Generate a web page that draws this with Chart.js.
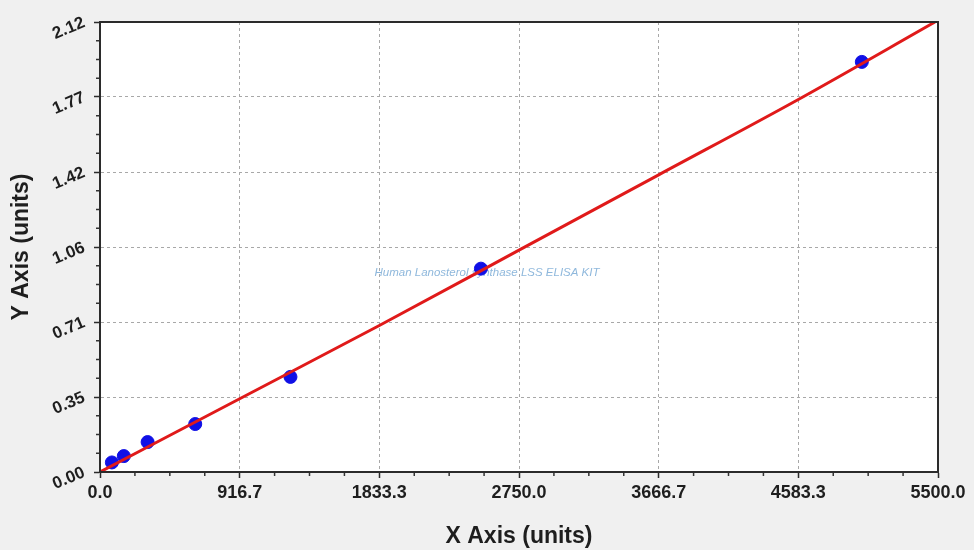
<!DOCTYPE html>
<html>
<head>
<meta charset="utf-8">
<script src="https://cdn.jsdelivr.net/npm/chart.js@4/dist/chart.umd.min.js"></script>
<style>
  html, body { margin: 0; padding: 0; background: #f0f0f0; }
  #wrap { width: 974px; height: 550px; }
</style>
</head>
<body>
<div id="wrap"><canvas id="c" width="974" height="550"></canvas></div>
<script>
// ---- data ----
const stdConc = [78.125, 156.25, 312.5, 625, 1250, 2500, 5000];
const stdOD = [0.045, 0.075, 0.141, 0.226, 0.448, 0.958, 1.932];
const fitConc = [0, 916.7, 1833.3, 2750, 3666.7, 4583.3, 5480];
const fitOD = [0.0, 0.345, 0.69, 1.045, 1.40, 1.755, 2.12];
const xTickLabels = ['0.0', '916.7', '1833.3', '2750.0', '3666.7', '4583.3', '5500.0'];
const yTickLabels = ['0.00', '0.35', '0.71', '1.06', '1.42', '1.77', '2.12'];
const xMax = 5500;
const yMax = 2.12;
const watermark = 'Human Lanosterol synthase LSS ELISA KIT';
const xTitle = 'X Axis (units)';
const yTitle = 'Y Axis (units)';

const toPts = (xs, ys) => xs.map((x, i) => ({ x: x, y: ys[i] }));

function evenTicks(scale, labels, max) {
  const n = labels.length - 1;
  scale.ticks = labels.map((l, i) => ({ value: max * i / n }));
}

const framePlugin = {
  id: 'frame',
  beforeDraw(chart) {
    const { ctx, chartArea: a } = chart;
    ctx.save();
    ctx.fillStyle = '#ffffff';
    ctx.fillRect(a.left, a.top, a.right - a.left, a.bottom - a.top);
    ctx.restore();
  },
  beforeDatasetsDraw(chart) {
    const { ctx } = chart;
    ctx.save();
    ctx.font = 'italic 11.5px "Liberation Sans", Arial, sans-serif';
    ctx.fillStyle = '#8fb8dc';
    ctx.textAlign = 'center';
    ctx.textBaseline = 'middle';
    const x = chart.scales.x.getPixelForValue(2540);
    const y = chart.scales.y.getPixelForValue(0.937);
    ctx.fillText(watermark, x, y);
    ctx.restore();
  },
  afterDraw(chart) {
    const { ctx, chartArea: a, scales } = chart;
    ctx.save();
    // minor ticks
    ctx.strokeStyle = '#333333';
    ctx.lineWidth = 1.5;
    const sub = 4;
    const xs = scales.x.ticks;
    for (let i = 0; i < xs.length - 1; i++) {
      const v0 = xs[i].value, v1 = xs[i + 1].value;
      for (let k = 1; k < sub; k++) {
        const px = scales.x.getPixelForValue(v0 + (v1 - v0) * k / sub);
        ctx.beginPath();
        ctx.moveTo(px, a.bottom);
        ctx.lineTo(px, a.bottom + 4);
        ctx.stroke();
      }
    }
    const ys = scales.y.ticks;
    for (let i = 0; i < ys.length - 1; i++) {
      const v0 = ys[i].value, v1 = ys[i + 1].value;
      for (let k = 1; k < sub; k++) {
        const py = scales.y.getPixelForValue(v0 + (v1 - v0) * k / sub);
        ctx.beginPath();
        ctx.moveTo(a.left, py);
        ctx.lineTo(a.left - 4, py);
        ctx.stroke();
      }
    }
    // frame
    ctx.strokeStyle = '#2b2b2b';
    ctx.lineWidth = 2;
    ctx.strokeRect(a.left, a.top, a.right - a.left, a.bottom - a.top);
    ctx.restore();
  }
};

new Chart(document.getElementById('c'), {
  type: 'scatter',
  data: {
    datasets: [
      {
        type: 'line',
        label: 'fit',
        data: toPts(fitConc, fitOD),
        borderColor: '#e01a1a',
        borderWidth: 3,
        pointRadius: 0,
        cubicInterpolationMode: 'monotone',
        fill: false,
        order: 0
      },
      {
        label: 'standards',
        data: toPts(stdConc, stdOD),
        backgroundColor: '#1010e6',
        borderColor: '#1010e6',
        pointRadius: 6.5,
        pointHoverRadius: 6.5,
        order: 1
      }
    ]
  },
  options: {
    responsive: false,
    animation: false,
    events: [],
    layout: { padding: { left: 0, top: 22, right: 36, bottom: 0 } },
    plugins: { legend: { display: false }, tooltip: { enabled: false } },
    scales: {
      x: {
        type: 'linear',
        min: 0,
        max: xMax,
        afterBuildTicks: s => evenTicks(s, xTickLabels, xMax),
        afterFit: s => { s.height = 78; },
        ticks: {
          callback: (v, i) => xTickLabels[i],
          font: { family: '"Liberation Sans", Arial, sans-serif', size: 18, weight: 'bold' },
          color: '#1e1e1e',
          padding: 4,
          maxRotation: 0,
          minRotation: 0
        },
        grid: {
          color: '#a8a8a8',
          lineWidth: 1,
          tickColor: '#2b2b2b',
          tickLength: 6,
          tickWidth: 1.5
        },
        border: { display: true, color: '#2b2b2b', width: 2, dash: [3, 3] },
        title: {
          display: true,
          text: xTitle,
          font: { family: '"Liberation Sans", Arial, sans-serif', size: 23, weight: 'bold' },
          color: '#1e1e1e',
          padding: { top: 0, bottom: 0 }
        }
      },
      y: {
        type: 'linear',
        min: 0,
        max: yMax,
        afterBuildTicks: s => evenTicks(s, yTickLabels, yMax),
        afterFit: s => { s.width = 100; },
        ticks: {
          callback: (v, i) => yTickLabels[i],
          font: { family: '"Liberation Sans", Arial, sans-serif', size: 17, weight: 'bold' },
          color: '#1e1e1e',
          padding: 10,
          minRotation: 23,
          maxRotation: 23
        },
        grid: {
          color: '#a8a8a8',
          lineWidth: 1,
          tickColor: '#2b2b2b',
          tickLength: 6,
          tickWidth: 1.5
        },
        border: { display: true, color: '#2b2b2b', width: 2, dash: [3, 3] },
        title: {
          display: true,
          text: yTitle,
          font: { family: '"Liberation Sans", Arial, sans-serif', size: 23, weight: 'bold' },
          color: '#1e1e1e',
          padding: { top: 8, bottom: 0 }
        }
      }
    }
  },
  plugins: [framePlugin]
});
</script>
</body>
</html>
